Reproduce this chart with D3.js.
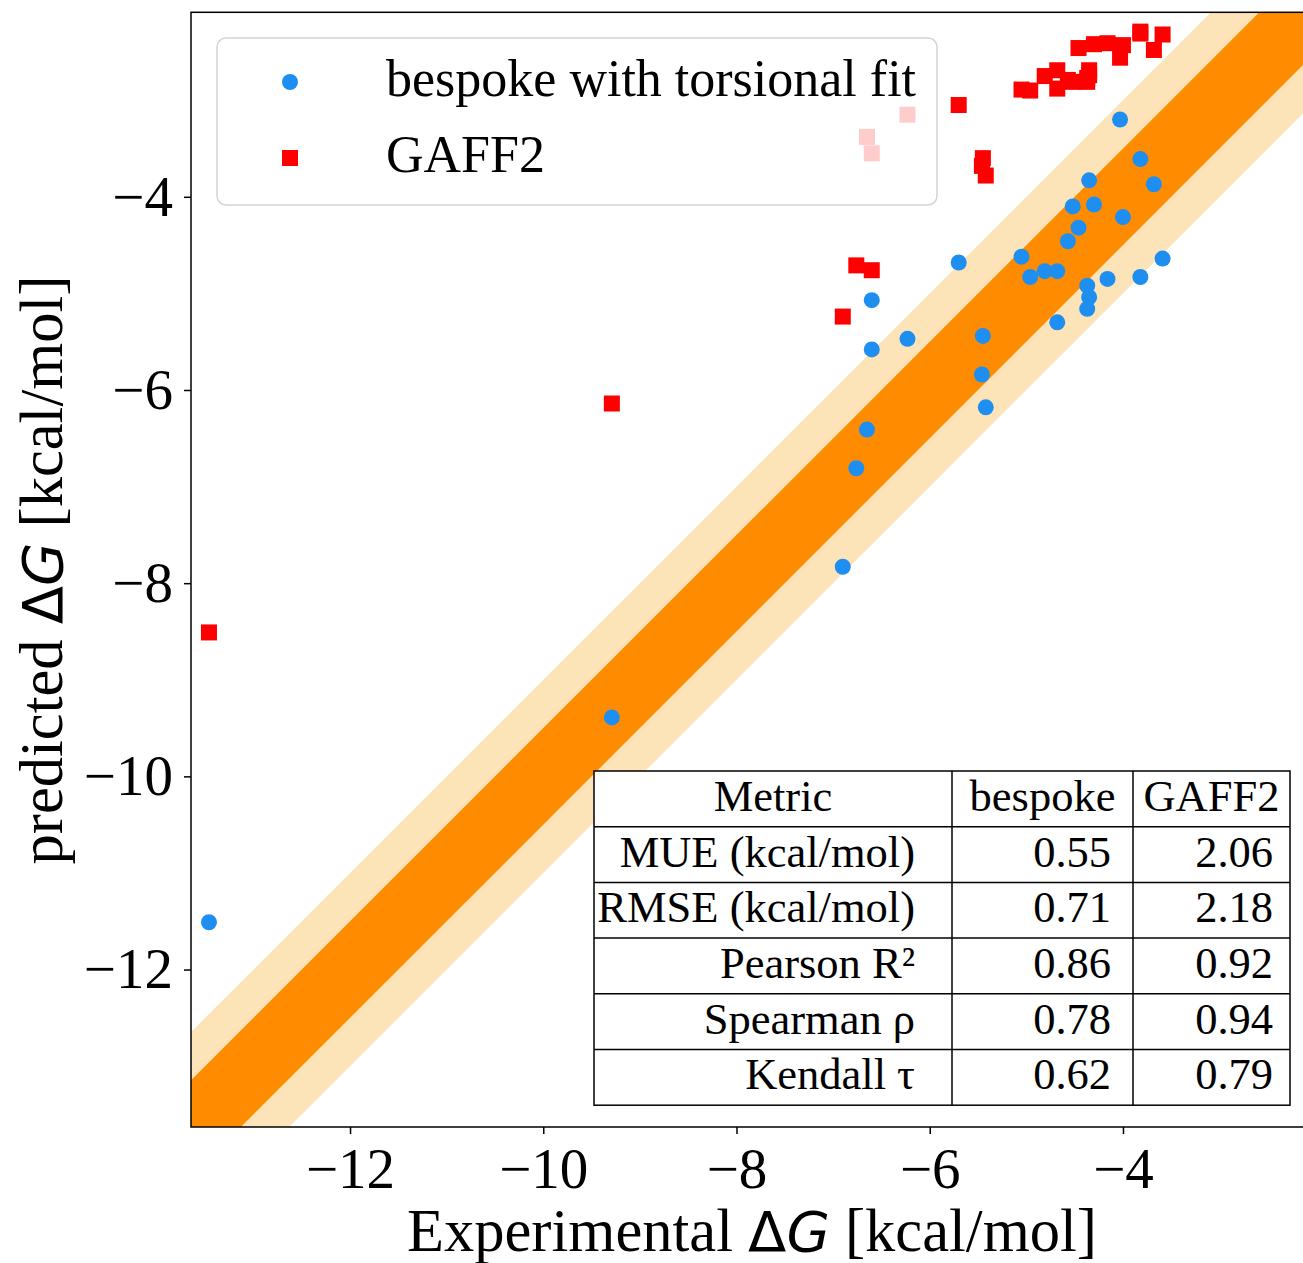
<!DOCTYPE html>
<html>
<head>
<meta charset="utf-8">
<script src="https://cdn.jsdelivr.net/npm/d3@7"></script>
<style>
  body { margin: 0; background: #fff; }
  svg { display: block; }
</style>
</head>
<body>
<div id="chart"></div>
<script>
/* CONSTANTS AND GLOBALS */
const width = 1303,
  height = 1263,
  margin = { top: 12.3, bottom: 136, left: 191, right: -4.5 };

const serif = "'Liberation Serif', 'Times New Roman', serif";

/* DATA */
// experimental dG for each compound, kcal/mol
const experimental = [-13.46, -9.29, -6.90, -6.76, -6.65, -6.60, -6.60, -6.23, -5.70, -5.45, -5.46, -5.42,
  -5.05, -4.96, -4.81, -4.68, -4.68, -4.57, -4.46, -4.52, -4.30, -4.35, -4.37, -4.35, -4.37,
  -4.16, -4.00, -4.03, -3.82, -3.68, -3.82, -3.59];
// predicted with bespoke torsional fit
const bespoke = [-11.51, -9.39, -7.83, -6.81, -6.41, -5.07, -5.58, -5.47, -4.68, -5.44, -5.84, -6.18,
  -4.62, -4.83, -4.77, -4.77, -5.30, -4.46, -4.32, -4.10, -4.08, -3.83, -4.92, -5.04, -5.16,
  -4.85, -4.21, -3.20, -3.61, -3.87, -4.83, -4.64];
// predicted with GAFF2
const gaff2 = [-8.51, -6.14, -5.24, -4.71, -3.38, -4.76, -3.55, -3.15, -3.05, -3.60, -3.68, -3.78,
  -2.89, -2.90, -2.75, -2.69, -2.88, -2.79, -2.46, -2.81, -2.42, -2.69, -2.77, -2.74, -2.81,
  -2.41, -2.43, -2.56, -2.29, -2.48, -2.31, -2.32];

const ticks = [-12, -10, -8, -6, -4];
const bands = [1.0, 0.5]; // +/- kcal/mol

const legendLabels = ["bespoke with torsional fit", "GAFF2"];

const tableHeader = ["Metric", "bespoke", "GAFF2"];
const metricNames = ["MUE (kcal/mol)", "RMSE (kcal/mol)", "Pearson R\u00b2", "Spearman \u03c1", "Kendall \u03c4"];
const bespokeStats = ["0.55", "0.71", "0.86", "0.78", "0.62"];
const gaffStats = ["2.06", "2.18", "0.92", "0.94", "0.79"];

/* SCALES */
const xScale = d3.scaleLinear()
  .domain([-13.646, -2.09])
  .range([margin.left, width - margin.right]);

const yScale = d3.scaleLinear()
  .domain([-13.63, -2.09])
  .range([height - margin.bottom, margin.top]);

const svg = d3.select("#chart")
  .append("svg")
  .attr("width", width)
  .attr("height", height);

svg.append("clipPath")
  .attr("id", "plot-clip")
  .append("rect")
  .attr("x", xScale.range()[0])
  .attr("y", yScale.range()[1])
  .attr("width", xScale.range()[1] - xScale.range()[0])
  .attr("height", yScale.range()[0] - yScale.range()[1]);

const plot = svg.append("g").attr("clip-path", "url(#plot-clip)");

// agreement bands around y = x
const xs = [-15, 0];
const bandColors = ["#fde3b8", "#ff8c00"];
bands.forEach((b, i) => {
  const area = d3.area()
    .x(d => xScale(d))
    .y0(d => yScale(d - b))
    .y1(d => yScale(d + b));
  plot.append("path")
    .datum(xs)
    .attr("d", area)
    .attr("fill", bandColors[i]);
});

const points = experimental.map((x, i) => ({ x, bespoke: bespoke[i], gaff: gaff2[i] }));

// blue circles
plot.selectAll("circle.bespoke")
  .data(points)
  .join("circle")
  .attr("class", "bespoke")
  .attr("cx", d => xScale(d.x))
  .attr("cy", d => yScale(d.bespoke))
  .attr("r", 8)
  .attr("fill", "#1e8ff0");

// red squares
const sq = 16;
plot.selectAll("rect.gaff")
  .data(points)
  .join("rect")
  .attr("class", "gaff")
  .attr("x", d => xScale(d.x) - sq / 2)
  .attr("y", d => yScale(d.gaff) - sq / 2)
  .attr("width", sq)
  .attr("height", sq)
  .attr("fill", "#ff0000");

/* AXES */
const xAxis = d3.axisBottom(xScale)
  .tickValues(ticks)
  .tickSize(7)
  .tickPadding(14);
const yAxis = d3.axisLeft(yScale)
  .tickValues(ticks)
  .tickSize(7)
  .tickPadding(11);

const xAxisGroup = svg.append("g")
  .attr("transform", `translate(0,${yScale.range()[0]})`)
  .call(xAxis);
const yAxisGroup = svg.append("g")
  .attr("transform", `translate(${xScale.range()[0]},0)`)
  .call(yAxis);

[xAxisGroup, yAxisGroup].forEach(g => {
  g.select(".domain").remove();
  g.selectAll(".tick line").attr("stroke", "#000").attr("stroke-width", 1.5);
  g.selectAll(".tick text")
    .attr("fill", "#000")
    .attr("font-family", serif)
    .attr("font-size", 57);
});

// frame
svg.append("rect")
  .attr("x", xScale.range()[0])
  .attr("y", yScale.range()[1])
  .attr("width", xScale.range()[1] - xScale.range()[0])
  .attr("height", yScale.range()[0] - yScale.range()[1])
  .attr("fill", "none")
  .attr("stroke", "#000")
  .attr("stroke-width", 1.5);

// axis titles
function axisTitle(sel, before) {
  sel.attr("font-family", serif)
    .attr("font-size", 60.5)
    .attr("fill", "#000")
    .attr("text-anchor", "middle");
  sel.append("tspan").text(before);
  sel.append("tspan").attr("font-family", "'DejaVu Sans'").attr("font-size", 56).text("\u0394");
  sel.append("tspan").attr("font-family", "'DejaVu Sans'").attr("font-size", 56).attr("font-style", "italic").text("G");
  sel.append("tspan").text(" [kcal/mol]");
}

svg.append("text")
  .attr("x", 752)
  .attr("y", 1251)
  .call(axisTitle, "Experimental ");

svg.append("text")
  .attr("transform", "translate(62,570) rotate(-90)")
  .call(axisTitle, "predicted ");

/* LEGEND */
const legend = svg.append("g");
legend.append("rect")
  .attr("x", 217)
  .attr("y", 38)
  .attr("width", 720)
  .attr("height", 167)
  .attr("rx", 9)
  .attr("fill", "#fff")
  .attr("fill-opacity", 0.8)
  .attr("stroke", "#d4d4d4")
  .attr("stroke-width", 1.5);

legend.append("circle")
  .attr("cx", 290).attr("cy", 82).attr("r", 8)
  .attr("fill", "#1e8ff0");
legend.append("rect")
  .attr("x", 290 - sq / 2).attr("y", 158 - sq / 2)
  .attr("width", sq).attr("height", sq)
  .attr("fill", "#ff0000");

legend.selectAll("text")
  .data(legendLabels)
  .join("text")
  .attr("x", 386)
  .attr("y", (d, i) => 96 + i * 76)
  .attr("font-family", serif)
  .attr("font-size", 52)
  .attr("fill", "#000")
  .text(d => d);

/* TABLE */
const colEdges = [594, 952, 1133, 1290];
const rowTop = 771, rowH = 55.7;
const nRows = metricNames.length + 1;
const table = svg.append("g");

table.append("rect")
  .attr("x", colEdges[0])
  .attr("y", rowTop)
  .attr("width", colEdges[3] - colEdges[0])
  .attr("height", rowH * nRows)
  .attr("fill", "#fff")
  .attr("stroke", "#000")
  .attr("stroke-width", 1.5);

d3.range(1, nRows).forEach(r => {
  table.append("line")
    .attr("x1", colEdges[0]).attr("x2", colEdges[3])
    .attr("y1", rowTop + r * rowH).attr("y2", rowTop + r * rowH)
    .attr("stroke", "#000").attr("stroke-width", 1.5);
});
[1, 2].forEach(c => {
  table.append("line")
    .attr("x1", colEdges[c]).attr("x2", colEdges[c])
    .attr("y1", rowTop).attr("y2", rowTop + nRows * rowH)
    .attr("stroke", "#000").attr("stroke-width", 1.5);
});

const cellText = (x, r, anchor, txt) => table.append("text")
  .attr("x", x)
  .attr("y", rowTop + r * rowH + rowH / 2 + 12)
  .attr("text-anchor", anchor)
  .attr("font-family", serif)
  .attr("font-size", 44.5)
  .attr("fill", "#000")
  .text(txt);

tableHeader.forEach((h, c) => cellText((colEdges[c] + colEdges[c + 1]) / 2, 0, "middle", h));
metricNames.forEach((m, i) => {
  cellText(915, i + 1, "end", m);
  cellText(1111, i + 1, "end", bespokeStats[i]);
  cellText(1273, i + 1, "end", gaffStats[i]);
});
</script>
</body>
</html>
